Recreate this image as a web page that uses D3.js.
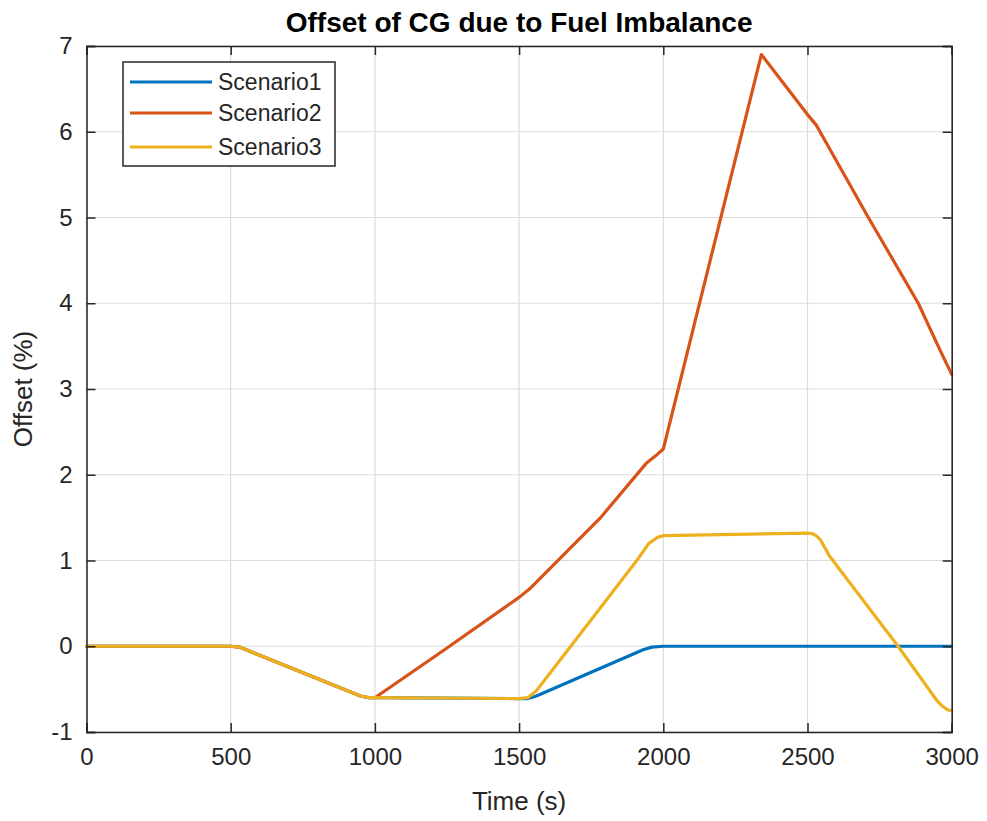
<!DOCTYPE html>
<html>
<head>
<meta charset="utf-8">
<script src="https://cdn.jsdelivr.net/npm/d3@7"></script>
<style>
  html, body { margin: 0; padding: 0; background: #fff; }
  svg { display: block; font-family: "Liberation Sans", Arial, Helvetica, sans-serif; }
</style>
</head>
<body>
<svg id="chart" width="987" height="821"></svg>
<script>
// Time (s) and CG offset (%) for each fuel scenario
const scenario1 = [
  [0, 0], [500, 0], [530, -0.01], [560, -0.05], [950, -0.58], [980, -0.6], [1000, -0.6],
  [1500, -0.61], [1530, -0.61], [1560, -0.58], [1930, -0.04], [1960, -0.01], [2000, 0], [3000, 0]
];
const scenario2 = [
  [0, 0], [500, 0], [530, -0.01], [560, -0.05], [950, -0.58], [980, -0.6], [1000, -0.6],
  [1250, -0.02], [1500, 0.57], [1540, 0.68], [1780, 1.49], [1940, 2.13], [1980, 2.24], [2000, 2.3],
  [2340, 6.9], [2420, 6.55], [2500, 6.2], [2530, 6.08], [2560, 5.9], [2711, 5.0], [2884, 4.0],
  [2960, 3.45], [3000, 3.17]
];
const scenario3 = [
  [0, 0], [500, 0], [530, -0.01], [560, -0.05], [950, -0.58], [980, -0.6], [1000, -0.6],
  [1500, -0.61], [1530, -0.6], [1560, -0.52], [1780, 0.44], [1908, 1.0], [1950, 1.2], [1980, 1.27],
  [2000, 1.29], [2500, 1.32], [2515, 1.315], [2530, 1.29], [2545, 1.24], [2560, 1.15], [2575, 1.06],
  [2588, 1.0], [2814, 0], [2948, -0.63], [2965, -0.69], [2985, -0.74], [3000, -0.75]
];
const seriesNames = ["Scenario1", "Scenario2", "Scenario3"];
const seriesColors = ["#0072BD", "#D95319", "#EDB120"];
const xTicks = [0, 500, 1000, 1500, 2000, 2500, 3000];
const yTicks = [-1, 0, 1, 2, 3, 4, 5, 6, 7];

const svg = d3.select("#chart");
const W = 987, H = 821;
const margin = { left: 86.5, right: W - 951.7, top: 46, bottom: H - 732 };
const x = d3.scaleLinear().domain([0, 3000]).range([margin.left, W - margin.right]);
const y = d3.scaleLinear().domain([-1, 7]).range([H - margin.bottom, margin.top]);
const axisColor = "#262626";
const tickLen = 9;

// grid
const grid = svg.append("g");
grid.selectAll(".gx").data(xTicks).join("line")
  .attr("x1", d => x(d)).attr("x2", d => x(d))
  .attr("y1", y(-1)).attr("y2", y(7))
  .attr("stroke", "#dcdcdc").attr("stroke-width", 1.2);
grid.selectAll(".gy").data(yTicks).join("line")
  .attr("x1", x(0)).attr("x2", x(3000))
  .attr("y1", d => y(d)).attr("y2", d => y(d))
  .attr("stroke", "#dcdcdc").attr("stroke-width", 1.2);

// series lines
const line = d3.line().x(d => x(d[0])).y(d => y(d[1]));
const allSeries = [scenario1, scenario2, scenario3];
const plot = svg.append("g");
allSeries.forEach((s, i) => {
  plot.append("path").datum(s)
    .attr("d", line)
    .attr("fill", "none")
    .attr("stroke", seriesColors[i])
    .attr("stroke-width", 3.2)
    .attr("stroke-linejoin", "round")
    .attr("stroke-linecap", "round");
});

// axes (inward ticks, boxed)
const tickFont = "24px";
const fmt = d => String(d);
const bottomAxis = d3.axisBottom(x).tickValues(xTicks).tickSize(-tickLen).tickPadding(16).tickFormat(fmt);
const topAxis = d3.axisTop(x).tickValues(xTicks).tickSize(-tickLen).tickFormat("");
const leftAxis = d3.axisLeft(y).tickValues(yTicks).tickSize(-tickLen).tickPadding(14).tickFormat(fmt);
const rightAxis = d3.axisRight(y).tickValues(yTicks).tickSize(-tickLen).tickFormat("");

function styleAxis(g) {
  g.select(".domain").attr("stroke", axisColor).attr("stroke-width", 1.5);
  g.selectAll(".tick line").attr("stroke", axisColor).attr("stroke-width", 1.5);
  g.selectAll(".tick text").attr("fill", axisColor).style("font-size", tickFont)
    .style("font-family", "'Liberation Sans', Arial, sans-serif");
}
svg.append("g").attr("transform", `translate(0,${y(-1)})`).call(bottomAxis).call(styleAxis);
svg.append("g").attr("transform", `translate(0,${y(7)})`).call(topAxis).call(styleAxis);
svg.append("g").attr("transform", `translate(${x(0)},0)`).call(leftAxis).call(styleAxis);
svg.append("g").attr("transform", `translate(${x(3000)},0)`).call(rightAxis).call(styleAxis);

// titles
svg.append("text")
  .attr("x", (x(0) + x(3000)) / 2).attr("y", 32)
  .attr("text-anchor", "middle")
  .attr("font-size", 28).attr("font-weight", "bold").attr("fill", "#000")
  .text("Offset of CG due to Fuel Imbalance");
svg.append("text")
  .attr("x", (x(0) + x(3000)) / 2).attr("y", 810)
  .attr("text-anchor", "middle")
  .attr("font-size", 26).attr("fill", axisColor)
  .text("Time (s)");
svg.append("text")
  .attr("transform", `translate(32,${(y(-1) + y(7)) / 2}) rotate(-90)`)
  .attr("text-anchor", "middle")
  .attr("font-size", 26).attr("fill", axisColor)
  .text("Offset (%)");

// legend
const lg = svg.append("g");
lg.append("rect")
  .attr("x", 123).attr("y", 62).attr("width", 212).attr("height", 104)
  .attr("fill", "#fff").attr("stroke", axisColor).attr("stroke-width", 1.5);
const rowY = [82, 113, 147];
seriesNames.forEach((name, i) => {
  lg.append("line")
    .attr("x1", 130).attr("x2", 212).attr("y1", rowY[i]).attr("y2", rowY[i])
    .attr("stroke", seriesColors[i]).attr("stroke-width", 3.2);
  lg.append("text")
    .attr("x", 218).attr("y", rowY[i]).attr("dy", "0.35em")
    .attr("font-size", 23).attr("fill", axisColor)
    .text(name);
});
</script>
</body>
</html>
